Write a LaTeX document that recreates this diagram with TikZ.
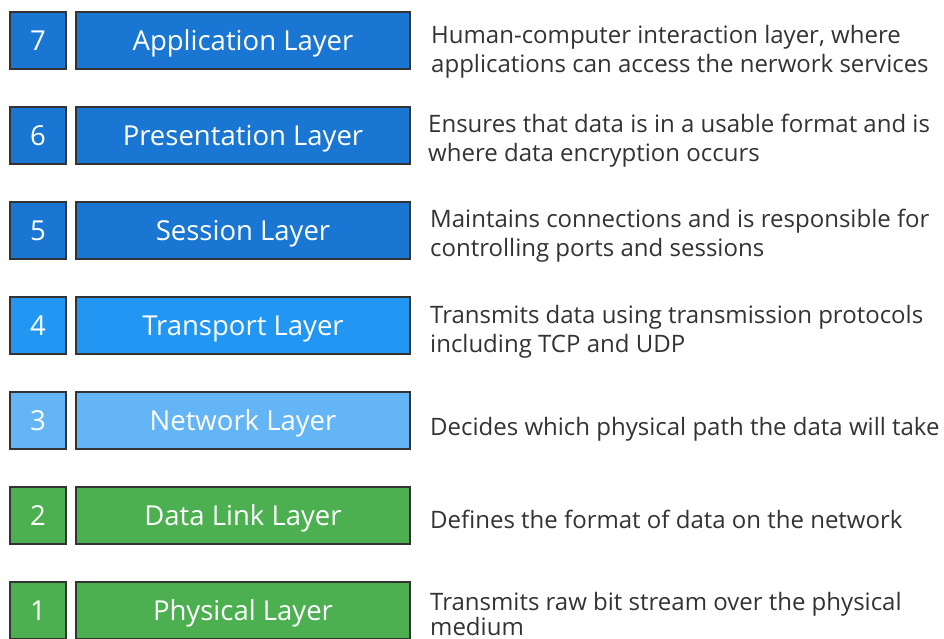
\documentclass[tikz,border=0pt]{standalone}
\usepackage{fontspec}
\setmainfont{Open Sans}
\definecolor{dblue}{HTML}{1976D2}
\definecolor{mblue}{HTML}{2196F3}
\definecolor{lblue}{HTML}{64B5F6}
\definecolor{lgreen}{HTML}{4CAF50}
\definecolor{edge}{HTML}{333333}
\definecolor{desctext}{HTML}{333333}
\begin{document}
\begin{tikzpicture}[x=1pt,y=-1pt,
  numbox/.style={draw=edge, line width=2pt, minimum width=56pt, minimum height=57pt,
    inner sep=0pt, text=white, font=\fontsize{27.5}{30}\selectfont,
    text height=19.6pt, text depth=0pt},
  labbox/.style={draw=edge, line width=2pt, minimum width=334pt, minimum height=57pt,
    inner sep=0pt, text=white, font=\fontsize{27.5}{30}\selectfont,
    text height=19.6pt, text depth=0pt},
  desc/.style={anchor=base west, inner sep=0pt, align=left, text=desctext,
    font=\fontsize{24}{29}\selectfont}]
\useasboundingbox (0,0) rectangle (944,638);
\clip (0,0) rectangle (944,638);
\fill[white] (0,0) rectangle (944,638);
% row centres: 40.5 + 95*(7-n)
\node[numbox, fill=dblue] (n7) at (38,40.5) {7};
\node[labbox, fill=dblue] (l7) at (243,40.5) {Application Layer};
\node[numbox, fill=dblue] (n6) at (38,135.5) {6};
\node[labbox, fill=dblue] (l6) at (243,135.5) {Presentation Layer};
\node[numbox, fill=dblue] (n5) at (38,230.5) {5};
\node[labbox, fill=dblue] (l5) at (243,230.5) {Session Layer};
\node[numbox, fill=mblue] (n4) at (38,325.5) {4};
\node[labbox, fill=mblue] (l4) at (243,325.5) {Transport Layer};
\node[numbox, fill=lblue] (n3) at (38,420.5) {3};
\node[labbox, fill=lblue] (l3) at (243,420.5) {Network Layer};
\node[numbox, fill=lgreen] (n2) at (38,515.5) {2};
\node[labbox, fill=lgreen] (l2) at (243,515.5) {Data Link Layer};
\node[numbox, fill=lgreen] (n1) at (38,610.5) {1};
\node[labbox, fill=lgreen] (l1) at (243,610.5) {Physical Layer};

% anchor = baseline of the last line
\node[desc] (d7) at (431,72) {Human-computer interaction layer, where\\applications can access the nerwork services};
\node[desc] (d6) at (428,161) {Ensures that data is in a usable format and is\\where data encryption occurs};
\node[desc] (d5) at (430,256) {Maintains connections and is responsible for\\controlling ports and sessions};
\node[desc] (d4) at (430,352) {Transmits data using transmission protocols\\including TCP and UDP};
\node[desc] (d3) at (430,435) {Decides which physical path the data will take};
\node[desc] (d2) at (430,528) {Defines the format of data on the network};
\node[desc] (d1) at (430,635) {Transmits raw bit stream over the physical\\[-4pt]medium};
\end{tikzpicture}
\end{document}
